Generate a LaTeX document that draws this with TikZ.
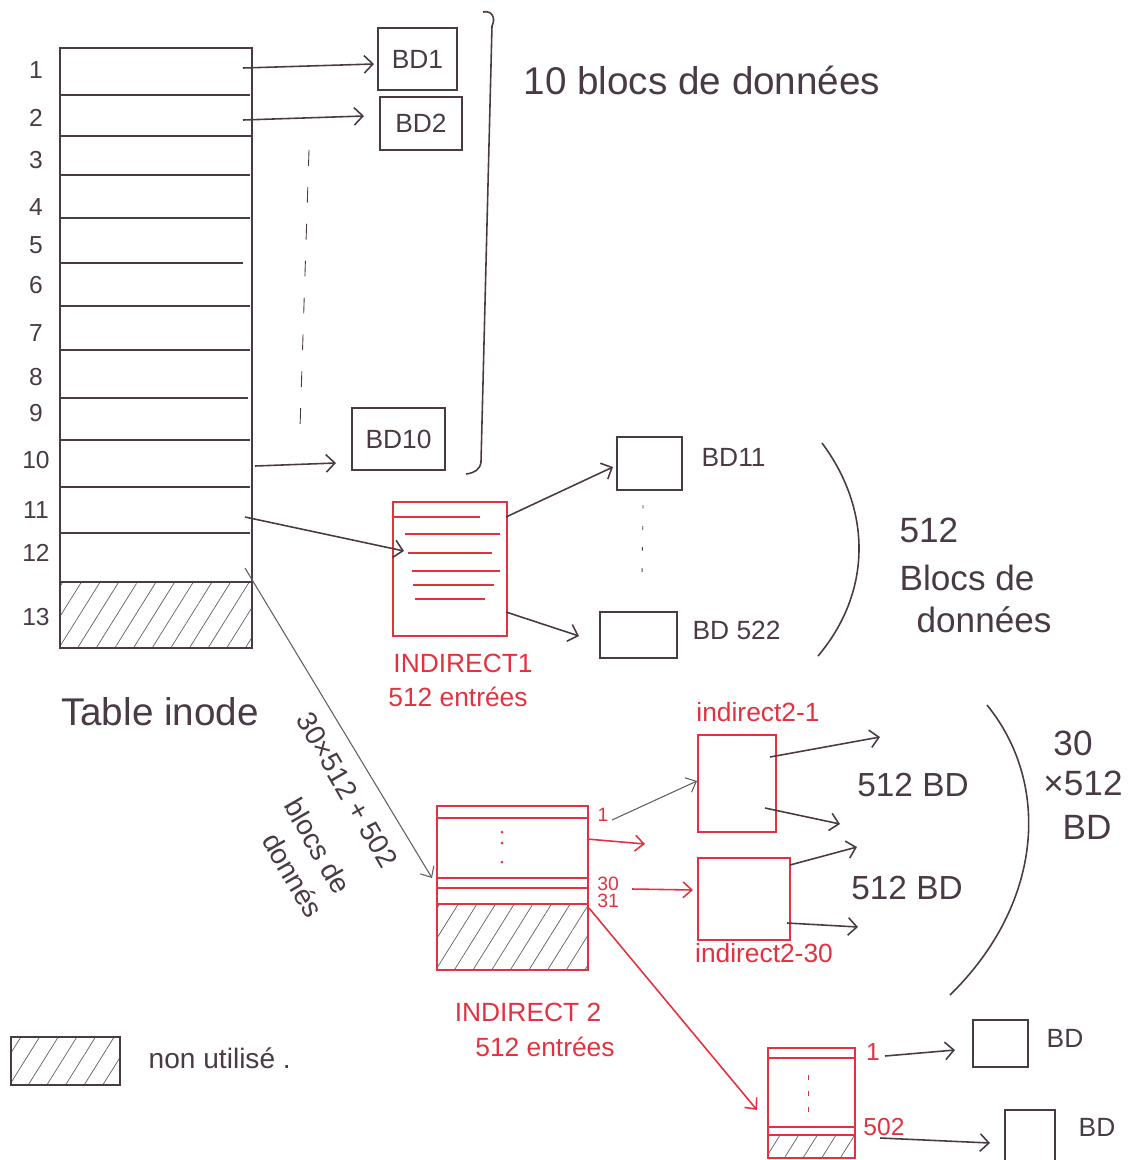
\documentclass[tikz,border=0pt]{standalone}
\usepackage{fontspec}
\setmainfont{Liberation Sans}
\usetikzlibrary{arrows.meta,fit,patterns.meta}
\definecolor{ink}{HTML}{4A3A45}
\definecolor{redink}{HTML}{E2323F}
\definecolor{pencil}{HTML}{5E5E66}
\begin{document}
\begin{tikzpicture}[x=0.02cm,y=-0.02cm,line width=0.9pt,
  box/.style={draw=ink,inner sep=0pt},
  rbox/.style={draw=redink,inner sep=0pt},
  arr/.style={draw=ink,-{Straight Barb[length=5pt,width=10pt]}},
  parr/.style={draw=pencil,line width=0.6pt,-{Straight Barb[length=5pt,width=9pt]}},
  rarr/.style={draw=redink,-{Straight Barb[length=5pt,width=9pt]}},
  hatch/.style={pattern={Lines[angle=58,distance=9pt,line width=0.4pt]},pattern color=pencil},
  rowlab/.style={text=ink,font=\fontsize{14}{16}\selectfont},
  bdlab/.style={text=ink,font=\fontsize{15}{17}\selectfont},
  biglab/.style={text=ink,font=\fontsize{20}{22}\selectfont},
  redlab/.style={text=redink,font=\fontsize{15}{17}\selectfont},
  smallred/.style={text=redink,font=\fontsize{11}{12}\selectfont},
  rottext/.style={text=ink,font=\fontsize{16}{18}\selectfont,rotate=-60,inner sep=1pt}]
\useasboundingbox (0,0) rectangle (1129,1160);

% ---------- inode table ----------
\fill[hatch] (60,582) rectangle (252,648);
\node[box,line width=1.1pt,fit={(60,48)(252,648)}] (inode) {};
\foreach \y/\e in {95/250,136/252,175/250,218/250,263/243,306/250,350/250,398/248,440/250,487/250,533/250,582/252}
  \draw[ink] (60,\y) -- (\e,\y);
\foreach \n/\y in {1/70,2/118,3/160,4/207,5/245,6/285,7/333,8/377,9/413,10/460,11/510,12/553,13/617}
  \node[rowlab] (r\n) at (36,\y) {\n};
\node[text=ink,font=\fontsize{22}{24}\selectfont] (tinode) at (160,712) {Table inode};

% ---------- direct blocks ----------
\node[box,fit={(378,28)(457,90)}] (bd1) {};
\node[bdlab] at (bd1.center) {BD1};
\node[box,fit={(380,97)(462,150)}] (bd2) {};
\node[bdlab] at (bd2.center) {BD2};
\node[box,fit={(352,408)(445,470)}] (bd10) {};
\node[bdlab] at (bd10.center) {BD10};

\coordinate (s1) at (243,68);  \coordinate (t1) at (374,64);
\coordinate (s2) at (243,120); \coordinate (t2) at (364,116);
\coordinate (s10) at (255,466); \coordinate (t10) at (336,463);
\draw[arr] (s1) -- (t1);
\draw[arr] (s2) -- (t2);
\draw[arr] (s10) -- (t10);
\coordinate (d1) at (309,150); \coordinate (d2) at (300,428);
\draw[ink,line width=0.5pt,dash pattern=on 9pt off 12pt] (d1) -- (d2);

\draw[ink] (483,12) .. controls (492,10) and (496,18) .. (492,26) -- (481,462)
  .. controls (480,470) and (474,473) .. (466,474);
\node[text=ink,font=\fontsize{22}{24}\selectfont] (ten) at (702,80) {10 blocs de données};

% ---------- indirect 1 ----------
\node[rbox,fit={(393,502)(507,636)}] (ind1) {};
\foreach \a/\b/\y in {393/480/517,405/500/534,408/492/553,412/500/571,413/494/585,415/485/599}
  \draw[redink] (\a,\y) -- (\b,\y);
\node[redlab] (ind1lab) at (463,663) {INDIRECT1};
\node[redlab] (ind1lab2) at (458,697) {512 entrées};

\coordinate (s11) at (245,517); \coordinate (t11) at (404,551);
\draw[arr] (s11) -- (t11);

\node[box,fit={(617,437)(682,490)}] (bd11) {};
\node[bdlab,anchor=west] at (695,457) {BD11};
\node[box,fit={(600,612)(677,658)}] (bd522) {};
\node[bdlab,anchor=west] at (686,630) {BD 522};
\coordinate (i1a) at (506,517); \coordinate (i1b) at (613,467);
\coordinate (i1c) at (506,612); \coordinate (i1d) at (579,636);
\draw[arr] (i1a) -- (i1b);
\draw[arr] (i1c) -- (i1d);
\coordinate (e1) at (643,505); \coordinate (e2) at (642,580);
\draw[ink,line width=0.5pt,dash pattern=on 2pt off 10pt] (e1) -- (e2);

\draw[ink] (822,443) .. controls (872,510) and (872,592) .. (818,656);
\node[biglab,anchor=west] (n512) at (893,530) {512};
\node[biglab,anchor=west] (nblocs) at (893,578) {Blocs de};
\node[biglab,anchor=west] (ndon) at (910,620) {données};

% ---------- indirect 2 ----------
\fill[hatch] (437,905) rectangle (588,970);
\node[rbox,fit={(437,806)(588,970)}] (ind2) {};
\foreach \y in {818,878,888,904}
  \draw[redink] (437,\y) -- (588,\y);
\foreach \y in {832,843,862}
  \fill[redink] (502,\y) circle (1.5);
\node[smallred] (l1) at (603,815) {1};
\node[smallred] (l30) at (608,884) {30};
\node[smallred] (l31) at (608,901) {31};
\node[redlab] (ind2lab) at (528,1012) {INDIRECT 2};
\node[redlab] (ind2lab2) at (545,1047) {512 entrées};

\coordinate (s12) at (245,568); \coordinate (t12) at (432,878);
\draw[parr] (s12) -- (t12);
\node[rottext] (rot1) at (347,790) {30×512 + 502};
\node[rottext] (rot2) at (318,846) {blocs de};
\node[rottext] (rot3) at (293,875) {donnés};

\node[rbox,fit={(698,735)(776,832)}] (i21) {};
\node[rbox,fit={(698,858)(790,940)}] (i230) {};
\node[redlab] (i21lab) at (758,712) {indirect2-1};
\node[redlab] (i230lab) at (764,953) {indirect2-30};

\coordinate (a1) at (612,820); \coordinate (a2) at (697,781);
\draw[parr] (a1) -- (a2);
\coordinate (a3) at (587,839); \coordinate (a4) at (645,844);
\draw[rarr] (a3) -- (a4);
\coordinate (a5) at (632,889); \coordinate (a6) at (693,890);
\draw[rarr] (a5) -- (a6);

\coordinate (b1) at (770,757); \coordinate (b2) at (880,737);
\coordinate (b3) at (765,808); \coordinate (b4) at (840,824);
\coordinate (b5) at (790,865); \coordinate (b6) at (857,847);
\coordinate (b7) at (787,923); \coordinate (b8) at (858,927);
\draw[arr] (b1) -- (b2);
\draw[arr] (b3) -- (b4);
\draw[arr] (b5) -- (b6);
\draw[arr] (b7) -- (b8);
\node[text=ink,font=\fontsize{19}{21}\selectfont] (bd512a) at (913,785) {512 BD};
\node[text=ink,font=\fontsize{19}{21}\selectfont] (bd512b) at (907,888) {512 BD};

\draw[ink] (987,705) .. controls (1052,785) and (1042,905) .. (950,995);
\node[biglab] (m30) at (1073,743) {30};
\node[biglab] (m512) at (1083,783) {×512};
\node[biglab] (mbd) at (1087,827) {BD};

% ---------- double indirect, second level ----------
\fill[hatch] (768,1135) rectangle (855,1158);
\node[rbox,fit={(768,1048)(855,1158)}] (ind3) {};
\foreach \y in {1058,1127,1135}
  \draw[redink] (768,\y) -- (855,\y);
\coordinate (c1) at (808,1075); \coordinate (c2) at (808,1115);
\draw[redink,line width=0.5pt,dash pattern=on 3pt off 6pt] (c1) -- (c2);
\node[smallred,font=\fontsize{14}{16}\selectfont] (k1) at (873,1052) {1};
\node[smallred,font=\fontsize{14}{16}\selectfont] (k502) at (884,1127) {502};

\coordinate (r1) at (589,908); \coordinate (r2) at (757,1110);
\draw[rarr] (r1) -- (r2);

\node[box,fit={(973,1020)(1028,1067)}] (bdx) {};
\node[bdlab] at (1065,1038) {BD};
\node[box,fit={(1005,1110)(1055,1165)}] (bdy) {};
\node[bdlab] at (1097,1127) {BD};
\coordinate (k1a) at (885,1056); \coordinate (k1b) at (955,1050);
\coordinate (k2a) at (880,1138); \coordinate (k2b) at (990,1143);
\draw[arr] (k1a) -- (k1b);
\draw[arr] (k2a) -- (k2b);

% ---------- legend ----------
\node[box,hatch,fit={(11,1037)(120,1085)}] (leg) {};
\node[text=ink,font=\fontsize{16}{18}\selectfont,anchor=west] (legt) at (142,1058) {non utilisé .};
\end{tikzpicture}
\end{document}
